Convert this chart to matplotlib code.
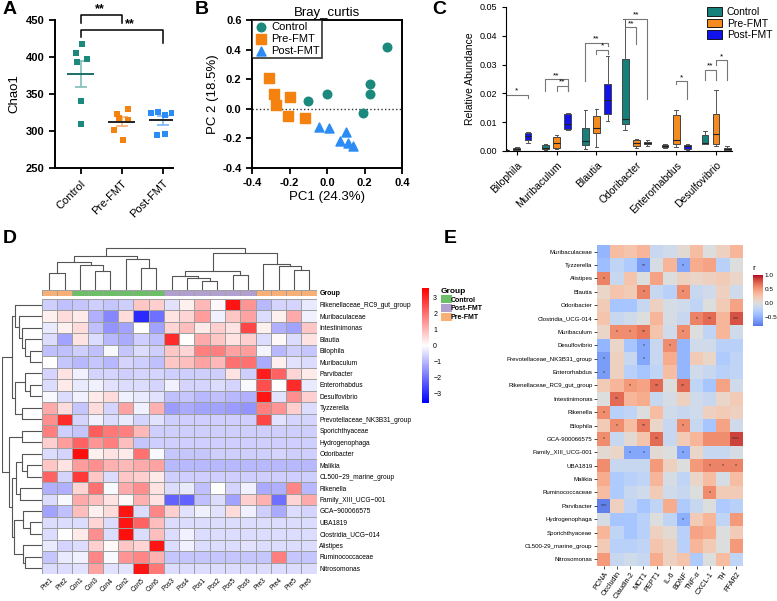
import numpy as np
import matplotlib
matplotlib.use("Agg")
import matplotlib.pyplot as plt
from matplotlib.colors import LinearSegmentedColormap, ListedColormap
from matplotlib.patches import Patch

plt.rcParams['font.family'] = ['Liberation Sans', 'DejaVu Sans']

# ---------------- data ----------------
groups = ['Control', 'Pre-FMT', 'Post-FMT']

# A: Chao1
chao_control = [417, 405, 397, 393, 340, 310]
chao_pre = [330, 323, 318, 315, 302, 288]
chao_post = [325, 326, 322, 325, 294, 296]
chao_jitter = [[0.03, -0.12, 0.16, -0.1, 0.0, 0.0],
               [0.16, -0.11, -0.06, 0.15, -0.18, 0.03],
               [-0.28, -0.12, 0.06, 0.23, -0.15, 0.06]]

# B: PCoA
pc_control_x = [0.32, 0.23, 0.23, 0.19, 0.0, -0.10]
pc_control_y = [0.42, 0.17, 0.10, -0.03, 0.10, 0.05]
pc_pre_x = [-0.31, -0.285, -0.27, -0.20, -0.21, -0.12]
pc_pre_y = [0.21, 0.10, 0.025, 0.08, -0.05, -0.06]
pc_post_x = [-0.045, 0.01, 0.10, 0.07, 0.11, 0.14]
pc_post_y = [-0.12, -0.13, -0.16, -0.22, -0.23, -0.25]

# C: box plot stats per genus and group: (whislo, q1, med, q3, whishi)
genera = ['Bilophila', 'Muribaculum', 'Blautia', 'Odoribacter', 'Enterorhabdus', 'Desulfovibrio']
box_control = [(0.0001, 0.0002, 0.0003, 0.0005, 0.0006),
               (0.0002, 0.0006, 0.0012, 0.0022, 0.0023),
               (0.0008, 0.0020, 0.0034, 0.0080, 0.0144),
               (0.0072, 0.0095, 0.0112, 0.0321, 0.0460),
               (0.0010, 0.0013, 0.0016, 0.0020, 0.0025),
               (0.0023, 0.0025, 0.0028, 0.0057, 0.0068)]
box_pre = [(0.0002, 0.0004, 0.0006, 0.0009, 0.0015),
           (0.0006, 0.0010, 0.0029, 0.0049, 0.0054),
           (0.0014, 0.0063, 0.0081, 0.0122, 0.0147),
           (0.0012, 0.0016, 0.0028, 0.0039, 0.0043),
           (0.0014, 0.0023, 0.0037, 0.0124, 0.0141),
           (0.0017, 0.0023, 0.0058, 0.0130, 0.0211)]
box_post = [(0.0028, 0.0037, 0.0051, 0.0062, 0.0066),
            (0.0072, 0.0078, 0.0093, 0.0130, 0.0133),
            (0.0104, 0.0130, 0.0176, 0.0234, 0.0329),
            (0.0017, 0.0023, 0.0028, 0.0032, 0.0037),
            (0.0003, 0.0006, 0.0017, 0.0022, 0.0025),
            (0.0002, 0.0003, 0.0006, 0.0009, 0.0017)]
# brackets: genus index, group a, group b, bar height, left leg end, right leg end, label
c_brackets = [(0, 0, 2, 0.0195, 0.0185, 0.0185, '*'),
              (1, 0, 2, 0.0250, 0.0210, 0.0210, '**'),
              (1, 1, 2, 0.0227, 0.0210, 0.0210, '**'),
              (2, 0, 2, 0.0376, 0.0242, 0.0363, '**'),
              (2, 1, 2, 0.0352, 0.0338, 0.0338, '*'),
              (3, 0, 2, 0.0460, 0.0460, 0.0180, '**'),
              (3, 0, 1, 0.0430, 0.0430, 0.0370, '**'),
              (4, 1, 2, 0.0243, 0.0234, 0.0180, '*'),
              (5, 0, 1, 0.0282, 0.0245, 0.0245, '**'),
              (5, 1, 2, 0.0315, 0.0300, 0.0245, '*')]

# D: heatmap (z-scores)
d_rows = ['Rikenellaceae_RC9_gut_group', 'Muribaculaceae', 'Intestinimonas', 'Blautia', 'Bilophila',
          'Muribaculum', 'Parvibacter', 'Enterorhabdus', 'Desulfovibrio', 'Tyzzerella',
          'Prevotellaceae_NK3B31_group', 'Sporichthyaceae', 'Hydrogenophaga', 'Odoribacter', 'Malikia',
          'CL500\u221229_marine_group', 'Rikenella', 'Family_XIII_UCG\u2212001', 'GCA\u2212900066575',
          'UBA1819', 'Clostridia_UCG\u2212014', 'Alistipes', 'Ruminococcaceae', 'Nitrosomonas']
d_cols = ['Pre1', 'Pre2', 'Con1', 'Con3', 'Con4', 'Con2', 'Con5', 'Con6', 'Pos3', 'Pos4',
          'Pos1', 'Pos2', 'Pos5', 'Pos6', 'Pre3', 'Pre4', 'Pre5', 'Pre6']
d_col_group = ['Pre-FMT', 'Pre-FMT', 'Control', 'Control', 'Control', 'Control', 'Control', 'Control',
               'Post-FMT', 'Post-FMT', 'Post-FMT', 'Post-FMT', 'Post-FMT', 'Post-FMT',
               'Pre-FMT', 'Pre-FMT', 'Pre-FMT', 'Pre-FMT']
d_values = [
    [-0.7, -0.9, -0.8, -0.7, -0.8, -0.7, 0.8, 0.7, -0.4, 0.2, 1.0, 0.1, 3.3, 1.5, -1.0, -0.6, -0.6, -0.3],
    [0.2, 0.5, 0.3, -1.1, -1.7, 0.5, -3.0, -2.0, 0.4, 0.6, 1.4, -0.2, 0.8, 1.3, -0.5, 0.2, 1.2, -0.2],
    [-0.3, 0.2, 0.5, -0.9, -1.5, -1.3, 0.0, -1.3, 0.6, 0.9, 0.3, 0.7, 0.4, 2.6, 0.2, -1.1, -1.3, 0.8],
    [-0.5, -1.3, 0.4, -0.5, -1.0, -1.2, -0.7, -0.9, 3.0, 0.0, 1.2, 0.8, 0.4, 0.7, -0.5, 0.1, -0.5, 0.4],
    [-0.9, -0.9, -0.7, -0.9, -0.1, -0.8, -0.5, -0.7, 0.8, 0.6, 1.8, 1.8, 1.3, 1.4, -0.15, -1.0, -0.7, -0.8],
    [0.0, -0.8, -1.0, -0.8, -1.0, -0.6, -0.7, -0.9, 0.8, 0.9, 1.3, 1.0, 2.0, 2.0, -1.2, 0.2, -0.4, -0.5],
    [-0.6, 0.4, -0.2, -0.6, -0.6, -0.7, -0.6, -0.6, -0.7, -0.7, -0.7, -0.7, 0.4, -0.7, 3.2, 2.2, 0.6, 0.3],
    [-0.5, 0.3, -0.3, -0.2, -0.4, -0.5, -0.5, -0.6, -0.2, -0.6, -0.6, -0.5, -0.6, -0.1, 2.5, 0.0, 3.0, -0.3],
    [-0.1, -0.5, -0.2, 0.3, 0.5, -0.2, -0.3, -0.4, -0.9, -0.8, -1.0, -0.9, -1.0, -1.1, 3.3, -0.4, 1.6, 0.7],
    [1.2, 0.5, -0.8, 0.5, -0.6, 1.3, -0.2, 1.1, -1.4, -1.2, -1.3, -1.3, -1.4, -1.5, 1.8, 1.5, 0.7, -0.5],
    [1.6, 3.0, -0.6, -0.2, -0.5, -0.3, -0.6, -0.4, -0.7, -0.7, -0.7, -0.7, -0.7, -0.7, 2.6, -0.4, -0.6, -0.6],
    [1.8, -0.7, -0.8, 2.3, 1.9, 1.8, 1.0, -0.7, -0.7, -0.7, -0.7, -0.7, -0.7, -0.7, -0.7, -0.7, -0.7, -0.7],
    [0.7, 1.4, 2.2, 1.5, 1.8, 0.9, -0.8, -0.7, -0.7, -0.7, -0.7, -0.7, -0.7, -0.7, -0.7, -0.7, -0.7, -0.7],
    [-0.5, -0.6, 3.4, 0.2, 0.4, 0.3, 2.0, -0.1, -0.8, -0.8, -0.8, -0.7, -0.7, -0.7, -0.7, -0.6, -0.7, -0.7],
    [0.8, 0.4, 1.4, 1.6, 1.1, 1.0, 1.2, 1.3, -1.0, -1.0, -1.0, -1.0, -1.0, -1.0, -1.0, -1.0, -1.0, -1.0],
    [2.2, -0.6, 2.8, 0.8, -0.5, 0.8, 0.7, 0.3, -0.7, -0.7, -0.7, -0.7, -0.7, -0.7, -0.7, -0.7, -0.7, -0.7],
    [-1.1, -1.1, 0.6, 2.0, -0.1, 1.2, 1.6, 0.4, -0.5, -0.3, -0.9, 0.0, -0.6, -0.2, -1.2, -1.1, 1.7, -1.0],
    [-0.5, -0.1, 1.2, 0.9, 0.4, 0.1, 1.1, 0.4, -2.2, -2.2, -0.9, -0.5, -1.3, 0.7, 1.1, -2.0, 0.6, 1.2],
    [-1.3, -0.9, 0.9, 0.2, 0.5, 3.3, -0.5, 1.7, 0.7, -0.4, -0.2, -0.4, 0.5, -0.2, -0.7, -1.2, -0.5, -0.6],
    [-0.5, -0.5, -0.5, 0.6, -0.5, 3.3, 2.2, 0.9, -0.5, -0.5, -0.5, -0.5, -0.5, -0.5, -0.5, -0.5, -0.5, -0.5],
    [-0.5, 0.0, 0.3, 1.6, -0.5, 3.4, -0.5, 0.9, -0.5, -0.2, -0.5, -0.5, -0.5, -0.5, -0.5, -0.5, -0.5, -0.5],
    [-0.3, -0.6, -0.5, 0.7, 0.1, 0.8, 0.6, 3.3, -0.5, -0.2, -0.5, -0.5, -0.5, -0.4, -0.5, -0.5, -0.5, -0.5],
    [-0.8, -0.3, -0.2, 1.7, -0.1, 1.5, 1.7, 1.1, -0.8, -0.8, -0.8, -0.8, -0.8, -0.8, -0.8, 1.8, -0.8, -0.8],
    [-0.5, -0.5, -0.4, 1.3, -0.4, -0.4, 3.3, 1.9, -0.5, -0.5, -0.5, -0.5, -0.5, -0.5, -0.5, -0.5, -0.5, -0.5],
]
# dendrogram merges: (child a, child b, height)
d_col_merges = [(0, 1, 50), (3, 4, 54), (2, 19, 74), (18, 20, 82), (6, 7, 64), (5, 22, 90),
                (21, 23, 99), (10, 11, 27), (9, 25, 35), (8, 26, 40), (12, 13, 44), (27, 28, 54),
                (16, 17, 59), (15, 30, 69), (14, 31, 77), (29, 32, 107), (24, 33, 124)]
d_row_merges = [(4, 5, 37), (3, 24, 50), (2, 25, 60), (1, 26, 70), (0, 27, 80), (7, 8, 37),
                (6, 29, 50), (9, 10, 60), (30, 31, 80), (28, 32, 90), (11, 12, 60), (14, 15, 45),
                (13, 35, 60), (16, 17, 67), (36, 37, 77), (19, 20, 37), (18, 39, 57), (22, 23, 50),
                (21, 41, 57), (40, 42, 85), (38, 43, 90), (34, 44, 100), (33, 45, 120)]

# E: correlation heatmap
e_rows = ['Muribaculaceae', 'Tyzzerella', 'Alistipes', 'Blautia', 'Odoribacter', 'Clostridia_UCG-014',
          'Muribaculum', 'Desulfovibrio', 'Prevotellaceae_NK3B31_group', 'Enterorhabdus',
          'Rikenellaceae_RC9_gut_group', 'Intestinimonas', 'Rikenella', 'Bilophila', 'GCA-900066575',
          'Family_XIII_UCG-001', 'UBA1819', 'Malikia', 'Ruminococcaceae', 'Parvibacter',
          'Hydrogenophaga', 'Sporichthyaceae', 'CL500-29_marine_group', 'Nitrosomonas']
e_cols = ['PCNA', 'Occludin', 'Claudin-2', 'MCT1', 'PEPT1', 'IL-6', 'BDNF', 'TNF-\u03b1', 'CXCL-1', 'TH', 'FFAR2']
e_values = [
    [-0.45, 0.30, 0.25, 0.35, -0.15, -0.10, 0.05, 0.30, 0.00, 0.15, 0.35],
    [-0.40, -0.20, -0.30, -0.60, -0.05, 0.35, -0.55, 0.40, 0.45, -0.25, 0.00],
    [0.60, -0.15, 0.25, 0.00, 0.45, 0.00, 0.15, 0.10, 0.15, 0.20, 0.10],
    [0.10, 0.25, 0.20, 0.60, -0.15, -0.25, 0.55, -0.15, -0.10, 0.15, -0.10],
    [0.20, -0.35, -0.35, -0.15, 0.15, -0.05, -0.10, -0.20, 0.00, 0.20, 0.45],
    [0.25, -0.15, -0.10, 0.00, 0.35, -0.05, -0.15, 0.60, 0.70, 0.35, 0.80],
    [0.10, 0.55, 0.55, 0.65, 0.25, -0.10, 0.55, 0.00, -0.20, 0.35, -0.10],
    [-0.45, 0.10, -0.35, -0.55, -0.15, 0.55, -0.45, -0.10, -0.10, -0.25, -0.25],
    [-0.60, 0.15, -0.15, -0.55, -0.15, 0.40, -0.45, 0.20, 0.10, -0.30, -0.20],
    [-0.60, 0.15, -0.25, -0.35, -0.20, 0.30, -0.45, -0.10, -0.15, -0.25, -0.20],
    [0.20, 0.35, 0.50, 0.45, 0.70, 0.00, 0.70, -0.20, -0.35, 0.45, -0.10],
    [0.00, 0.70, 0.35, 0.40, -0.15, -0.05, 0.15, -0.10, -0.15, 0.10, 0.20],
    [0.55, -0.25, -0.20, 0.00, 0.30, -0.10, -0.15, -0.10, 0.15, 0.20, 0.15],
    [0.20, 0.55, 0.30, 0.65, 0.10, -0.15, 0.55, -0.15, -0.35, 0.45, -0.10],
    [0.55, -0.15, 0.05, 0.25, 0.70, -0.15, 0.20, 0.35, 0.55, 0.55, 0.85],
    [0.05, 0.10, -0.55, -0.55, 0.05, 0.00, -0.55, 0.10, -0.15, -0.15, -0.05],
    [0.55, -0.15, -0.15, -0.15, 0.50, 0.15, 0.00, 0.50, 0.60, 0.60, 0.60],
    [0.40, -0.30, -0.25, -0.20, 0.35, -0.05, -0.20, 0.10, 0.30, -0.05, 0.30],
    [0.30, -0.30, -0.15, -0.10, 0.20, -0.10, -0.15, 0.00, 0.55, 0.20, 0.20],
    [-0.75, 0.15, -0.20, -0.35, -0.20, 0.40, -0.30, -0.15, 0.00, -0.30, -0.25],
    [-0.05, -0.35, -0.35, -0.25, 0.00, -0.20, -0.50, 0.20, 0.35, -0.20, 0.50],
    [0.35, -0.20, -0.35, -0.25, 0.15, 0.05, -0.25, 0.45, 0.40, 0.00, 0.20],
    [0.20, -0.25, -0.25, -0.20, 0.25, 0.15, -0.25, 0.35, 0.20, 0.00, 0.50],
    [0.50, -0.15, -0.10, -0.15, 0.40, 0.15, 0.25, -0.30, 0.00, 0.30, -0.20],
]
# significance marks: (row, col, label)
e_stars = [(1, 3, '**'), (1, 6, '*'), (2, 0, '*'), (3, 3, '*'), (3, 6, '*'),
           (5, 7, '*'), (5, 8, '**'), (5, 10, '***'), (6, 1, '*'), (6, 2, '*'), (6, 3, '**'),
           (6, 6, '*'), (7, 3, '*'), (7, 5, '*'), (8, 0, '*'), (8, 3, '*'), (9, 0, '*'),
           (10, 2, '*'), (10, 4, '**'), (10, 6, '**'), (11, 1, '**'), (12, 0, '*'),
           (13, 1, '*'), (13, 3, '**'), (13, 6, '*'), (14, 0, '*'), (14, 4, '**'), (14, 10, '****'),
           (15, 2, '*'), (15, 3, '*'), (15, 6, '*'), (16, 8, '*'), (16, 9, '*'), (16, 10, '*'),
           (18, 8, '*'), (19, 0, '***'), (20, 6, '*')]

# ---------------- style ----------------
W, H = 777, 601
teal, orange, blue = '#1b8a7c', '#f5820f', '#2b8cf5'
c_colors = ['#16807a', '#f58a1f', '#1212ee']
grp_colors = {'Control': '#6cbf66', 'Post-FMT': '#b19fd0', 'Pre-FMT': '#f9b077'}

def rect(x0, y0, x1, y1):
    return [x0 / W, 1 - y1 / H, (x1 - x0) / W, (y1 - y0) / H]

fig = plt.figure(figsize=(W / 100, H / 100), dpi=100)

# ---------------- A ----------------
axA = fig.add_axes(rect(55, 20, 173, 168))
sem_cols = ['#7fbfb8', '#f7b173', '#78b6f7']
for i, (vals, col) in enumerate(zip([chao_control, chao_pre, chao_post], [teal, orange, blue])):
    vals = np.array(vals, dtype=float)
    axA.scatter(i + np.array(chao_jitter[i]), vals, marker='s', s=18, color=col, zorder=3, linewidths=0)
    m = vals.mean()
    se = vals.std(ddof=1) / np.sqrt(len(vals))
    axA.errorbar(i, m, yerr=se, color=sem_cols[i], capsize=4, lw=1.2, capthick=1.2, zorder=2)
    axA.hlines(m, i - 0.33, i + 0.33, color='#222222' if i else '#1b6f68', lw=1.4, zorder=4)
axA.set_xlim(-0.63, 2.25)
axA.set_ylim(250, 450)
axA.set_yticks([250, 300, 350, 400, 450])
axA.set_xticks([0, 1, 2])
axA.set_xticklabels(groups, rotation=45, ha='right', rotation_mode='anchor', fontsize=8)
for lab in axA.get_yticklabels():
    lab.set_fontweight('bold')
axA.tick_params(axis='y', labelsize=8, width=1.3, length=4)
axA.tick_params(axis='x', width=1.3, length=4)
axA.set_ylabel('Chao1', fontsize=9.5)
for s in ['top', 'right']:
    axA.spines[s].set_visible(False)
for s in ['left', 'bottom']:
    axA.spines[s].set_linewidth(1.4)
axA.plot([0, 0, 1, 1], [446, 457, 457, 446], color='black', lw=1.1, clip_on=False)
axA.text(0.46, 457, '**', ha='center', va='bottom', fontsize=9, fontweight='bold')
axA.plot([0, 0, 2, 2], [427, 436.5, 436.5, 419], color='black', lw=1.1, clip_on=False)
axA.text(1.2, 436.5, '**', ha='center', va='bottom', fontsize=9, fontweight='bold')

# ---------------- B ----------------
axB = fig.add_axes(rect(252, 20, 402, 168))
axB.scatter(pc_control_x, pc_control_y, marker='o', s=38, color=teal, label='Control', zorder=3)
axB.scatter(pc_pre_x, pc_pre_y, marker='s', s=42, color=orange, label='Pre-FMT', zorder=3)
axB.scatter(pc_post_x, pc_post_y, marker='^', s=42, color=blue, label='Post-FMT', zorder=3)
axB.axhline(0, color='#333333', ls=':', lw=1)
axB.set_xlim(-0.4, 0.4)
axB.set_ylim(-0.4, 0.6)
axB.set_xticks([-0.4, -0.2, 0.0, 0.2, 0.4])
axB.set_yticks([-0.4, -0.2, 0.0, 0.2, 0.4, 0.6])
axB.xaxis.set_major_formatter(matplotlib.ticker.FormatStrFormatter('%.1f'))
axB.yaxis.set_major_formatter(matplotlib.ticker.FormatStrFormatter('%.1f'))
for lab in axB.get_xticklabels() + axB.get_yticklabels():
    lab.set_fontweight('bold')
axB.tick_params(labelsize=8, width=1.3, length=4)
for s in axB.spines.values():
    s.set_linewidth(1.4)
axB.set_title('Bray_curtis', fontsize=9.5, pad=3)
axB.set_xlabel('PC1 (24.3%)', fontsize=9.5, labelpad=2)
axB.set_ylabel('PC 2 (18.5%)', fontsize=9.5, labelpad=2)
legB = axB.legend(loc='upper left', fontsize=8, frameon=True, fancybox=False, borderpad=0.2,
                  handletextpad=0.3, labelspacing=0.15, borderaxespad=0, handlelength=1.2)
legB.get_frame().set_edgecolor('black')
legB.get_frame().set_linewidth(1.2)

# ---------------- C ----------------
axC = fig.add_axes(rect(506, 7, 732, 151))
offsets = [-0.28, 0.0, 0.28]
for gi, boxes in enumerate([box_control, box_pre, box_post]):
    stats = []
    for b in boxes:
        stats.append(dict(whislo=b[0], q1=b[1], med=b[2], q3=b[3], whishi=b[4], fliers=[]))
    pos = np.arange(len(genera)) + offsets[gi]
    axC.bxp(stats, positions=pos, widths=0.17, patch_artist=True, showfliers=False,
            boxprops=dict(facecolor=c_colors[gi], edgecolor='#444444', linewidth=0.7),
            medianprops=dict(color='#222222', linewidth=0.8),
            whiskerprops=dict(color='#555555', linewidth=0.7),
            capprops=dict(color='#555555', linewidth=0.7), capwidths=0.09)
for g, a, b, yb, ya, yc, lab in c_brackets:
    xa, xb = g + offsets[a], g + offsets[b]
    axC.plot([xa, xa, xb, xb], [ya, yb, yb, yc], color='#777777', lw=0.8)
    axC.text((xa + xb) / 2, yb, lab, ha='center', va='bottom', fontsize=6)
axC.set_xlim(-0.27, 5.4)
axC.set_ylim(0, 0.05)
axC.set_yticks([0, 0.01, 0.02, 0.03, 0.04, 0.05])
axC.yaxis.set_major_formatter(matplotlib.ticker.FormatStrFormatter('%.2f'))
axC.set_xticks(np.arange(len(genera)))
axC.set_xticklabels(genera, rotation=45, ha='right', rotation_mode='anchor', fontsize=7.5)
axC.tick_params(axis='y', labelsize=6.5, width=0.8, length=3)
axC.tick_params(axis='x', width=0.8, length=3)
axC.set_ylabel('Relative Abundance', fontsize=7.5, labelpad=3)
for s in ['top', 'right']:
    axC.spines[s].set_visible(False)
fig.legend(handles=[Patch(facecolor=c, edgecolor='black', lw=0.6, label=l) for c, l in zip(c_colors, groups)],
           loc='upper left', bbox_to_anchor=(703 / W, 1 - 3 / H), fontsize=7.5, frameon=False,
           handlelength=1.4, handleheight=0.9, handletextpad=0.5, labelspacing=0.15, borderaxespad=0)

# ---------------- D ----------------
def draw_dendro(ax, merges, n, horizontal=False):
    pos = {i: i + 0.5 for i in range(n)}
    hgt = {i: 0.0 for i in range(n)}
    for k, (a, b, h) in enumerate(merges):
        xs = [pos[a], pos[a], pos[b], pos[b]]
        ys = [hgt[a], h, h, hgt[b]]
        if horizontal:
            ax.plot(ys, xs, color='#555555', lw=0.8)
        else:
            ax.plot(xs, ys, color='#555555', lw=0.8)
        pos[n + k] = (pos[a] + pos[b]) / 2
        hgt[n + k] = h

d_cmap = LinearSegmentedColormap.from_list('bwr_d', ['#0000ff', '#ffffff', '#ff0000'])
axD = fig.add_axes(rect(41.7, 299, 316.7, 574))
meshD = axD.pcolormesh(np.array(d_values), cmap=d_cmap, vmin=-3.6, vmax=3.6,
                       edgecolors='#a0a0a0', linewidth=0.5)
axD.set_xlim(0, len(d_cols))
axD.set_ylim(len(d_rows), 0)
axD.yaxis.tick_right()
axD.set_yticks(np.arange(len(d_rows)) + 0.5)
axD.set_yticklabels(d_rows, fontsize=4.8)
axD.set_xticks(np.arange(len(d_cols)) + 0.5)
axD.set_xticklabels(d_cols, fontsize=4.8, rotation=45, ha='right', rotation_mode='anchor')
axD.tick_params(length=0, pad=2)
for s in axD.spines.values():
    s.set_visible(False)

axG = fig.add_axes(rect(41.7, 289.7, 316.7, 295.5))
grp_order = ['Control', 'Post-FMT', 'Pre-FMT']
grp_idx = np.array([[grp_order.index(g) for g in d_col_group]])
axG.pcolormesh(grp_idx, cmap=ListedColormap([grp_colors[g] for g in grp_order]), vmin=-0.5, vmax=2.5,
               edgecolors='#a0a0a0', linewidth=0.5)
axG.set_xlim(0, len(d_cols))
axG.set_xticks([])
axG.yaxis.tick_right()
axG.set_yticks([0.5])
axG.set_yticklabels(['Group'], fontsize=5, fontweight='bold')
axG.tick_params(length=0, pad=2)
for s in axG.spines.values():
    s.set_visible(False)

axDC = fig.add_axes(rect(41.7, 247, 316.7, 289.7))
draw_dendro(axDC, d_col_merges, len(d_cols))
axDC.set_xlim(0, len(d_cols))
axDC.set_ylim(0, 126)
axDC.axis('off')

axDR = fig.add_axes(rect(1.5, 299, 41.7, 574))
draw_dendro(axDR, d_row_merges, len(d_rows), horizontal=True)
axDR.set_ylim(len(d_rows), 0)
axDR.set_xlim(122, 0)
axDR.axis('off')

caxD = fig.add_axes(rect(421.7, 288.3, 429, 403))
cbD = fig.colorbar(meshD, cax=caxD, ticks=[-3, -2, -1, 0, 1, 2, 3])
cbD.outline.set_visible(False)
caxD.tick_params(labelsize=5, length=0, pad=3)

fig.legend(handles=[Patch(facecolor=grp_colors[g], edgecolor='none', label=g) for g in grp_order],
           title='Group', loc='upper left', bbox_to_anchor=(438 / W, 1 - 285 / H),
           prop=dict(size=5, weight='bold'), title_fontproperties=dict(size=6, weight='bold'),
           frameon=False, handlelength=1.6, handleheight=1.3, handletextpad=-0.2,
           labelspacing=0.1, borderaxespad=0, alignment='left')

# ---------------- E ----------------
cw = plt.get_cmap('coolwarm')
e_cmap = ListedColormap(cw(np.linspace(0.1, 1.0, 256)))
axE = fig.add_axes(rect(597, 245, 743, 566))
meshE = axE.pcolormesh(np.array(e_values), cmap=e_cmap, vmin=-0.8, vmax=1.0)
for r, c, lab in e_stars:
    axE.text(c + 0.5, r + 0.5, lab, ha='center', va='center', fontsize=3.8, color='#333333')
axE.set_xlim(0, len(e_cols))
axE.set_ylim(len(e_rows), 0)
axE.set_yticks(np.arange(len(e_rows)) + 0.5)
axE.set_yticklabels(e_rows, fontsize=4.4)
axE.set_xticks(np.arange(len(e_cols)) + 0.5)
axE.set_xticklabels(e_cols, fontsize=5.2, rotation=55, ha='right', rotation_mode='anchor')
axE.tick_params(length=2, width=0.5, pad=1.2)
for s in axE.spines.values():
    s.set_visible(False)

caxE = fig.add_axes(rect(752.7, 275, 762.7, 325.7))
cbE = fig.colorbar(meshE, cax=caxE, ticks=[-0.5, 0.0, 0.5, 1.0])
cbE.outline.set_visible(False)
caxE.tick_params(labelsize=4.6, length=0, pad=1.5)
fig.text(752 / W, 1 - 270 / H, 'r', fontsize=6)

# ---------------- panel labels ----------------
for lab, x, y in [('A', 3, 14), ('B', 195, 14), ('C', 432, 14), ('D', 3, 243), ('E', 444, 243)]:
    fig.text(x / W, 1 - y / H, lab, fontsize=14, fontweight='bold', ha='left', va='baseline')

fig.savefig('out.png', dpi=100)
